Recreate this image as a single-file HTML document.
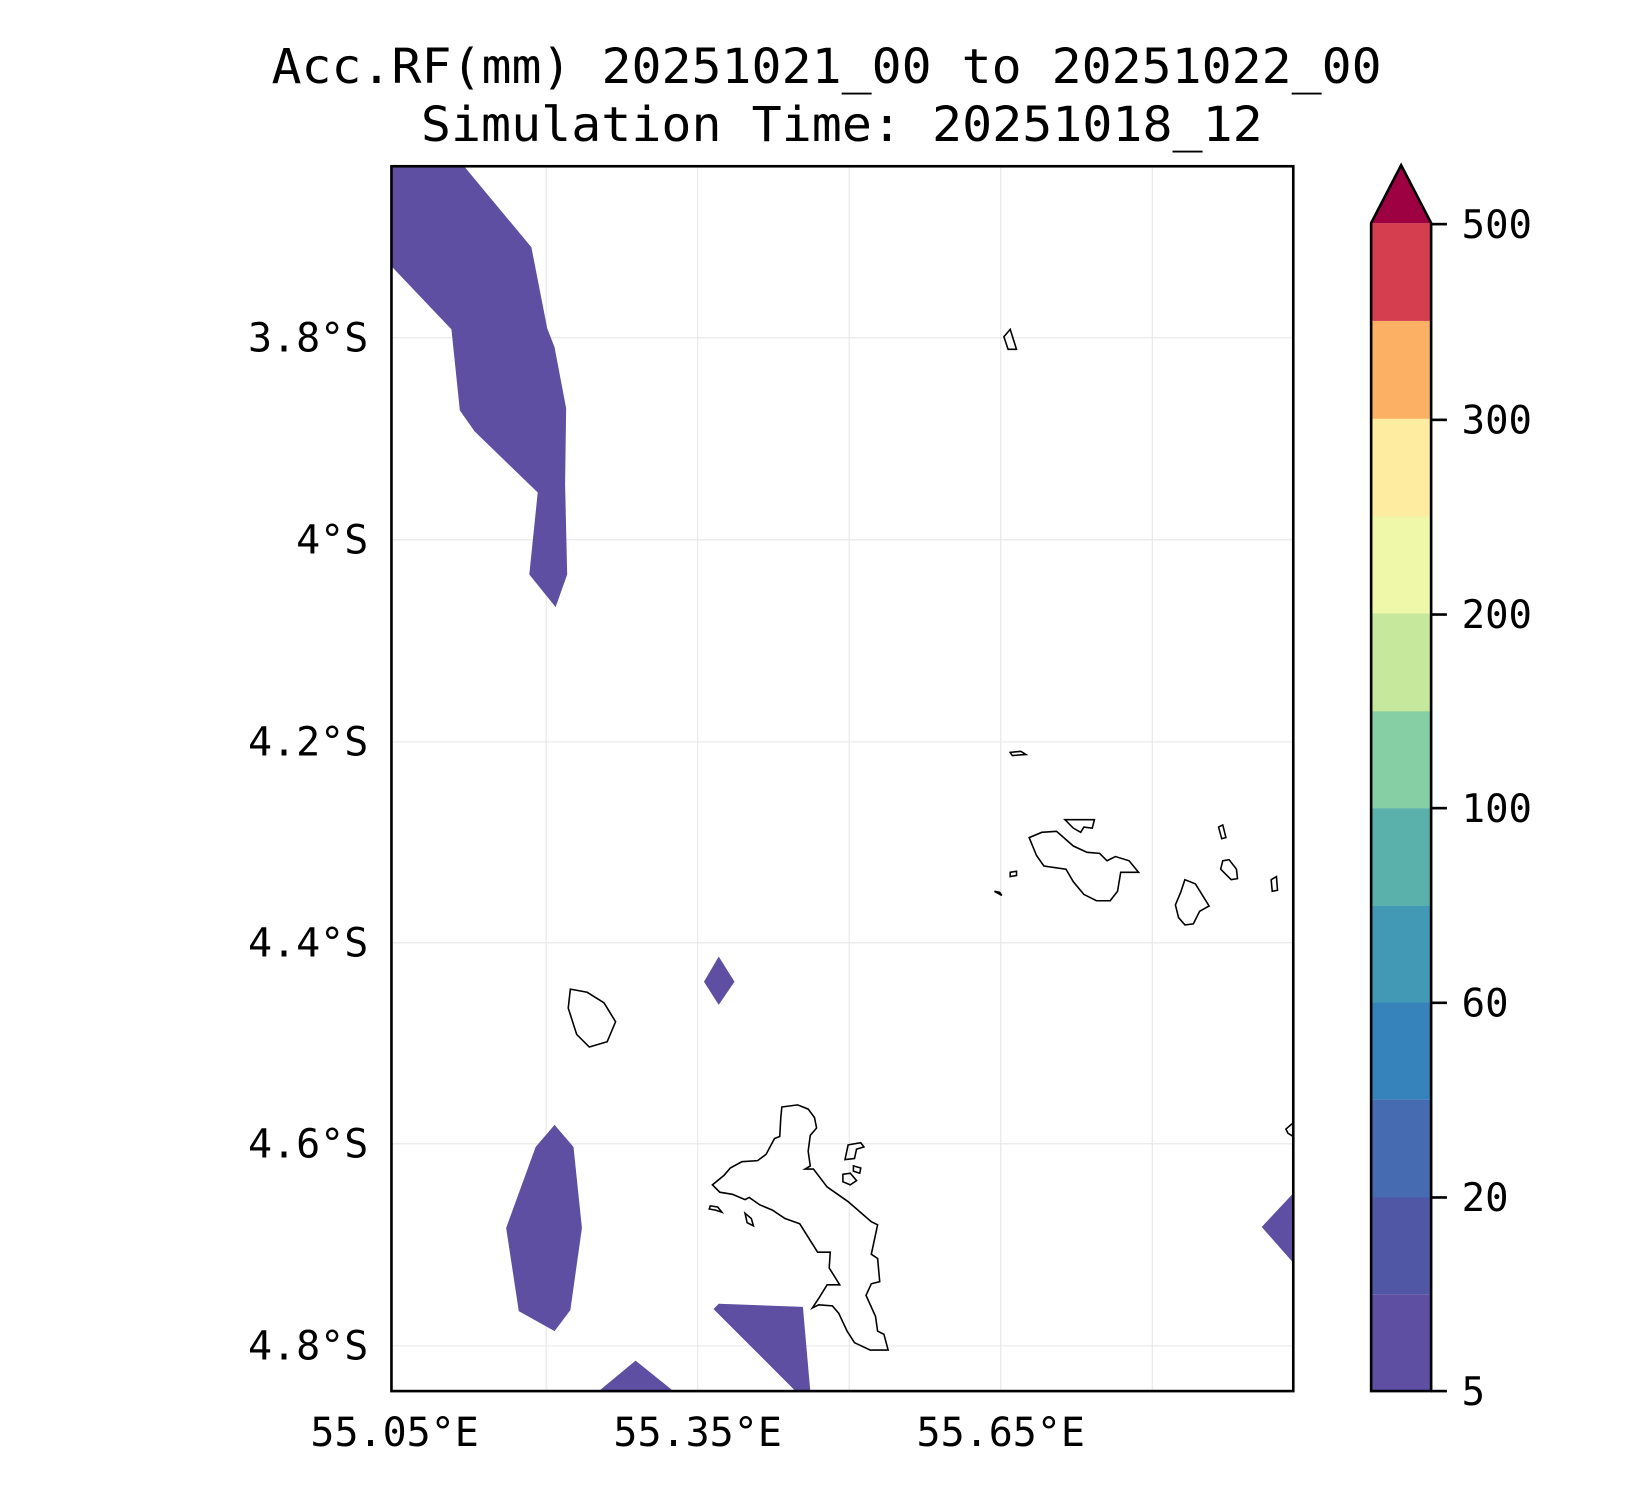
<!DOCTYPE html>
<html><head><meta charset="utf-8"><style>html,body{margin:0;padding:0;background:#fff}svg{display:block}</style></head>
<body>
<svg width="1650" height="1500" viewBox="0 0 1568 1425.5" preserveAspectRatio="none" xmlns="http://www.w3.org/2000/svg" font-family="DejaVu Sans Mono, Liberation Mono, monospace">
<rect width="1568" height="1426" fill="#fff"/>
<text x="258" y="79" font-size="46" textLength="1055" lengthAdjust="spacingAndGlyphs">Acc.RF(mm) 20251021_00 to 20251022_00</text>
<text x="400" y="134" font-size="46" textLength="800" lengthAdjust="spacingAndGlyphs">Simulation Time: 20251018_12</text>
<defs><clipPath id="c"><rect x="372" y="158" width="857" height="1164"/></clipPath></defs>
<g stroke="#e6e6e6" stroke-width="1">
<line x1="519" y1="158" x2="519" y2="1322"/><line x1="663" y1="158" x2="663" y2="1322"/><line x1="807" y1="158" x2="807" y2="1322"/><line x1="951" y1="158" x2="951" y2="1322"/><line x1="1095" y1="158" x2="1095" y2="1322"/>
<line x1="372" y1="321" x2="1229" y2="321"/><line x1="372" y1="513" x2="1229" y2="513"/><line x1="372" y1="705" x2="1229" y2="705"/><line x1="372" y1="896" x2="1229" y2="896"/><line x1="372" y1="1087" x2="1229" y2="1087"/><line x1="372" y1="1279" x2="1229" y2="1279"/>
</g>
<g clip-path="url(#c)" fill="#5e4fa2">
<polygon points="372,158 441,158 505,235 520,312 527,330 538,388 537,460 539,546 528,577 503,546 511,468 451,410 437,390 429,313 372,253"/>
<polygon points="683,909 698,933 683,955 669,933"/>
<polygon points="527,1069 545,1090 553,1167 542,1245 527,1265 493,1246 481,1167 509,1090"/>
<polygon points="569,1322 604,1293 640,1322"/>
<polygon points="678,1244 683,1239 763,1242 770,1322 756,1322"/>
<polygon points="1229,1134 1199,1166 1229,1200"/>
</g>
<g clip-path="url(#c)" fill="none" stroke="#000" stroke-width="1.5">
<polygon points="954,320 960,313 966,332 958,332"/>
<polygon points="960,715 970,714 975,717 962,718"/>
<polygon points="978,796 990,791 1004,790 1020,804 1033,810 1045,811 1052,818 1060,814 1073,818 1082,829 1065,829 1062,847 1055,856 1042,856 1030,850 1020,838 1013,826 992,823 985,813"/>
<polygon points="1012,779 1040,779 1038,787 1030,786 1027,791 1020,787"/>
<polygon points="960,829 966,828 966,832 960,833"/>
<polygon points="945,847 950,848 952,851"/>
<polygon points="1158,786 1162,784 1165,796 1161,797"/>
<polygon points="1162,818 1168,817 1175,826 1176,835 1170,836 1160,826"/>
<polygon points="1208,836 1213,833 1214,846 1209,847"/>
<polygon points="1126,836 1136,840 1149,861 1140,866 1134,878 1126,879 1120,872 1117,860 1122,848"/>
<polygon points="1222,1073 1229,1067 1229,1080 1224,1077"/>
<polygon points="542,940 558,943 574,953 585,971 577,990 560,995 548,983 540,958"/>
<polygon points="743,1052 758,1050 768,1054 774,1062 776,1072 770,1079 768,1094 770,1108 765,1111 773,1111 786,1128 806,1142 828,1161 834,1164 828,1192 834,1196 836,1218 828,1220 823,1231 832,1251 834,1265 840,1268 844,1283 827,1283 812,1276 805,1265 797,1248 791,1241 778,1240 772,1243 778,1234 786,1221 798,1221 788,1205 789,1190 777,1190 760,1163 746,1158 734,1150 722,1145 712,1138 708,1140 696,1135 684,1133 677,1126 688,1117 694,1110 705,1104 720,1103 728,1097 736,1082 741,1080 742,1062"/>
<polygon points="806,1088 818,1086 821,1090 814,1092 812,1101 803,1102"/>
<polygon points="801,1116 808,1115 814,1122 808,1126 801,1123"/>
<polygon points="811,1108 818,1110 817,1115 811,1113"/>
<polygon points="675,1146 682,1147 686,1152 680,1150 674,1149"/>
<polygon points="708,1153 714,1158 716,1165 710,1162"/>
</g>
<rect x="372" y="158" width="857" height="1164" fill="none" stroke="#000" stroke-width="2.5"/>
<g font-size="38" fill="#000">
<text x="350" y="334" text-anchor="end">3.8°S</text>
<text x="350" y="526" text-anchor="end">4°S</text>
<text x="350" y="718" text-anchor="end">4.2°S</text>
<text x="350" y="909" text-anchor="end">4.4°S</text>
<text x="350" y="1100" text-anchor="end">4.6°S</text>
<text x="350" y="1292" text-anchor="end">4.8°S</text>
<text x="375" y="1374" text-anchor="middle">55.05°E</text>
<text x="663" y="1374" text-anchor="middle">55.35°E</text>
<text x="951" y="1374" text-anchor="middle">55.65°E</text>
</g>
<rect x="1303" y="1230" width="57" height="92" fill="#5e4fa2"/>
<rect x="1303" y="1137" width="57" height="93" fill="#5058a6"/>
<rect x="1303" y="1045" width="57" height="93" fill="#466bb0"/>
<rect x="1303" y="952" width="57" height="93" fill="#3682ba"/>
<rect x="1303" y="860" width="57" height="93" fill="#4199b5"/>
<rect x="1303" y="768" width="57" height="93" fill="#5ab1ac"/>
<rect x="1303" y="675" width="57" height="93" fill="#86cea4"/>
<rect x="1303" y="583" width="57" height="93" fill="#c6e89c"/>
<rect x="1303" y="490" width="57" height="93" fill="#eef8a8"/>
<rect x="1303" y="398" width="57" height="93" fill="#feeca0"/>
<rect x="1303" y="305" width="57" height="93" fill="#fbb063"/>
<rect x="1303" y="212" width="57" height="93" fill="#d53e4f"/>
<polygon points="1303,212 1331.5,157 1360,212" fill="#9e0142"/>
<polygon points="1303,212 1331.5,157 1360,212 1360,1322 1303,1322" fill="none" stroke="#000" stroke-width="2.5"/>
<g stroke="#000" stroke-width="2.5">
<line x1="1360" y1="213" x2="1375" y2="213"/><line x1="1360" y1="399" x2="1375" y2="399"/><line x1="1360" y1="584" x2="1375" y2="584"/><line x1="1360" y1="768" x2="1375" y2="768"/><line x1="1360" y1="953" x2="1375" y2="953"/><line x1="1360" y1="1138" x2="1375" y2="1138"/><line x1="1360" y1="1322" x2="1375" y2="1322"/>
</g>
<g font-size="37" fill="#000">
<text x="1389" y="226">500</text><text x="1389" y="412">300</text><text x="1389" y="597">200</text><text x="1389" y="781">100</text><text x="1389" y="966">60</text><text x="1389" y="1151">20</text><text x="1389" y="1335">5</text>
</g>
</svg>
</body></html>
